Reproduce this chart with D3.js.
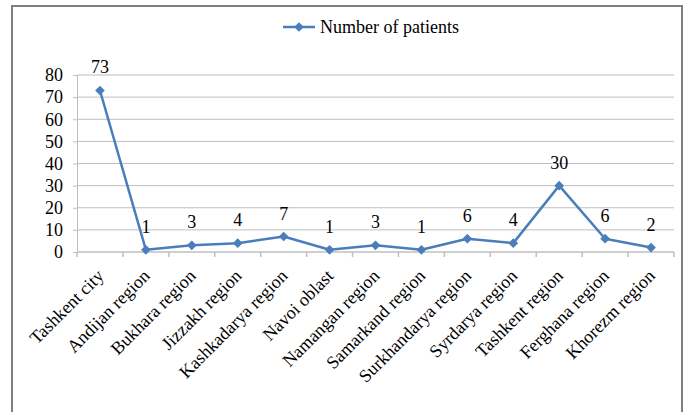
<!DOCTYPE html>
<html>
<head>
<meta charset="utf-8">
<script src="https://cdn.jsdelivr.net/npm/d3@7"></script>
<style>
  body { margin: 0; background: #fff; }
  svg { display: block; }
</style>
</head>
<body>
<script>
// Patients by region
const categories = [
  "Tashkent city", "Andijan region", "Bukhara region", "Jizzakh region",
  "Kashkadarya region", "Navoi oblast", "Namangan region", "Samarkand region",
  "Surkhandarya region", "Syrdarya region", "Tashkent region",
  "Ferghana region", "Khorezm region"
];
const patients = [73, 1, 3, 4, 7, 1, 3, 1, 6, 4, 30, 6, 2];
const yTicks = [0, 10, 20, 30, 40, 50, 60, 70, 80];
const seriesName = "Number of patients";

const W = 689, H = 412;
const color = "#4a7ebb";
const font = "'Liberation Serif', 'Times New Roman', serif";
const fs = 18;

const svg = d3.select("body").append("svg")
  .attr("width", W).attr("height", H);

// outer chart frame
svg.append("rect")
  .attr("x", 12).attr("y", 6)
  .attr("width", 670).attr("height", 420)
  .attr("fill", "#fff")
  .attr("stroke", "#7f7f7f").attr("stroke-width", 2);

const plot = { left: 77, right: 674, top: 75, bottom: 252 };

const x = d3.scaleBand().domain(categories)
  .range([plot.left, plot.right]).paddingInner(0).paddingOuter(0);
const y = d3.scaleLinear().domain([0, 80]).range([plot.bottom, plot.top]);

// horizontal gridlines
svg.append("g").selectAll("line").data(yTicks.filter(d => d > 0)).join("line")
  .attr("x1", plot.left).attr("x2", plot.right)
  .attr("y1", d => y(d)).attr("y2", d => y(d))
  .attr("stroke", "#bfbfbf").attr("stroke-width", 1);

// y axis
const yAxis = svg.append("g")
  .attr("transform", `translate(${plot.left},0)`)
  .call(d3.axisLeft(y).tickValues(yTicks).tickSize(4).tickPadding(10));
yAxis.select(".domain").attr("stroke", "#bfbfbf");
yAxis.selectAll(".tick line").attr("stroke", "#bfbfbf");
yAxis.selectAll("text")
  .attr("font-family", font).attr("font-size", fs).attr("fill", "#000");

// x axis baseline with ticks at category boundaries
const xg = svg.append("g");
xg.append("line")
  .attr("x1", plot.left).attr("x2", plot.right)
  .attr("y1", plot.bottom).attr("y2", plot.bottom)
  .attr("stroke", "#bfbfbf").attr("stroke-width", 1.5);
const bounds = categories.map(c => x(c)).concat([plot.right]);
xg.selectAll("line.tk").data(bounds).join("line").attr("class", "tk")
  .attr("x1", d => d).attr("x2", d => d)
  .attr("y1", plot.bottom).attr("y2", plot.bottom + 5)
  .attr("stroke", "#bfbfbf").attr("stroke-width", 1.5);

// rotated category labels
xg.selectAll("text").data(categories).join("text")
  .attr("transform", d => `translate(${x(d) + x.bandwidth() / 2 + 5},${plot.bottom + 25}) rotate(-45)`)
  .attr("text-anchor", "end")
  .attr("font-family", font).attr("font-size", fs).attr("fill", "#000")
  .text(d => d);

const cx = (d, i) => x(categories[i]) + x.bandwidth() / 2;

// series line
const line = d3.line().x((d, i) => cx(d, i)).y(d => y(d));
svg.append("path").datum(patients)
  .attr("d", line)
  .attr("fill", "none").attr("stroke", color)
  .attr("stroke-width", 2.5).attr("stroke-linejoin", "round");

// diamond markers
const diamond = d3.symbol().type(d3.symbolDiamond2).size(60);
svg.append("g").selectAll("path").data(patients).join("path")
  .attr("transform", (d, i) => `translate(${cx(d, i)},${y(d)})`)
  .attr("d", diamond)
  .attr("fill", color);

// value labels
svg.append("g").selectAll("text").data(patients).join("text")
  .attr("x", (d, i) => cx(d, i))
  .attr("y", d => y(d) - 17)
  .attr("text-anchor", "middle")
  .attr("font-family", font).attr("font-size", fs).attr("fill", "#000")
  .text(d => d);

// legend
const lg = svg.append("g").attr("transform", "translate(283,27)");
lg.append("line").attr("x1", 0).attr("x2", 32).attr("y1", 0).attr("y2", 0)
  .attr("stroke", color).attr("stroke-width", 2.5);
lg.append("path").attr("transform", "translate(16,0)")
  .attr("d", diamond).attr("fill", color);
lg.append("text").attr("x", 37).attr("y", 6)
  .attr("font-family", font).attr("font-size", fs).attr("fill", "#000")
  .text(seriesName);
</script>
</body>
</html>
